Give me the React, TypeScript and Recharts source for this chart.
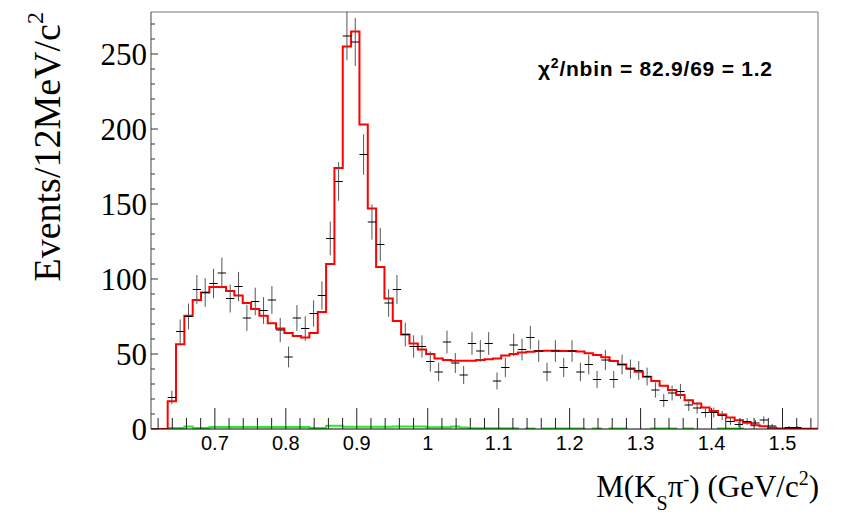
import React from 'react';
import { ComposedChart, Line, Scatter, ErrorBar, XAxis, YAxis, ReferenceLine } from 'recharts';

// histogram binning: 80 bins between 0.61 and 1.55 GeV/c2
const X_MIN = 0.61;
const X_MAX = 1.55;
const BIN_WIDTH = 0.01175;

// data counts per bin (null = empty bin, not drawn)
const dataCounts: (number | null)[] = [
  null, null, 21, 65, 75, 93, 91, 97, 104, 87,
  95, 74, 85, 79, 86, 66, 48, 74, 67, 77,
  89, 127, 165, 262, 258, 183, 138, 123, 84, 93,
  63, 55, 55, 45, 38, 58, 44, 36, 57, 52,
  57, 32, 41, 56, 53, 61, 52, 38, 52, 41,
  52, 38, 43, 33, 46, 33, 43, 40, 39, 35,
  26, 19, 24, 25, 16, 14, 11, 11, 9, 5,
  3, 5, 4, 6, 2, null, 1, 1, null, null,
];

// total fit (red histogram)
const fitValues: number[] = [
  0, 0, 18.5, 56.5, 75.5, 86, 91, 94.6, 94.6, 92,
  89, 84, 80, 75.5, 70.5, 67, 64, 62, 61, 64,
  78, 110, 174, 255, 265, 203, 147, 108, 87, 72,
  63, 57, 53, 50, 47, 46, 45.5, 45.5, 45.5, 46,
  46.5, 47, 49, 50, 51, 51.5, 52, 52.2, 52.2, 52,
  52, 51.6, 50.5, 49.4, 47.8, 45.3, 43, 40.4, 38.2, 34.8,
  32, 28.8, 26, 22.6, 19.2, 17, 14.3, 12, 9.6, 7.6,
  5.8, 4.2, 2.5, 1.8, 0.9, 0.3, 0.2, 0.2, 0, 0,
];

// background component (green), negative parts fall below the axis
const bkgValues: (number | null)[] = [
  null, null, 0.7, 0.7, 1.6, 0.7, 0.7, 1.3, 1.3, 1.3,
  1.3, 1.3, 1.3, 1.3, 1.3, 1.3, 1.3, 1.3, 1.3, 0.7,
  0.7, 2.2, 2.2, 1.5, 1.5, 1.5, 1.5, 1.5, 1.5, 1.7,
  1.7, 1.7, 1.7, 1.2, 1.2, 1.2, 1.7, 1.0, 0.5, 0.5,
  0.5, 0.5, 0.5, 0.5, -1, 0.3, -1, 0.3, 0.3, 0.3,
  0.3, 0.3, -1, 0.3, -1, 0.3, 0.3, -1, -1, -1,
  0.3, 0.3, 0.3, -1, 0.3, -1, -1, -1, 0.3, 0.3,
  0.3, -1, -1, -1, -1, -1, 0.3, 0.3, 0.3, 0.3,
];

const xMajorTicks = [0.7, 0.8, 0.9, 1, 1.1, 1.2, 1.3, 1.4, 1.5];
const xMinorTicks = [
  0.62, 0.64, 0.66, 0.68, 0.72, 0.74, 0.76, 0.78, 0.82, 0.84, 0.86, 0.88,
  0.92, 0.94, 0.96, 0.98, 1.02, 1.04, 1.06, 1.08, 1.12, 1.14, 1.16, 1.18,
  1.22, 1.24, 1.26, 1.28, 1.32, 1.34, 1.36, 1.38, 1.42, 1.44, 1.46, 1.48,
  1.52, 1.54,
];
const yMajorTicks = [0, 50, 100, 150, 200, 250];
const yMinorTicks = [10, 20, 30, 40, 60, 70, 80, 90, 110, 120, 130, 140, 160, 170, 180, 190, 210, 220, 230, 240, 260, 270];

const SERIF = "'Liberation Serif', 'Times New Roman', serif";
const SANS = "'Liberation Sans', Arial, Helvetica, sans-serif";

// step lines: one point per low edge, plus the closing edge
const toSteps = (vals: (number | null)[]) => [
  ...vals.map((v, i) => ({ x: X_MIN + i * BIN_WIDTH, y: v })),
  { x: X_MAX, y: vals[vals.length - 1] },
];
const fitData = toSteps(fitValues);
const bkgData = toSteps(bkgValues);

// points at bin centres, poisson errors
const points = dataCounts
  .map((n, i) => (n === null ? null : { x: X_MIN + (i + 0.5) * BIN_WIDTH, y: n, ex: BIN_WIDTH / 2, ey: Math.sqrt(n) }))
  .filter((p) => p !== null);

const xTicks = [...xMinorTicks, ...xMajorTicks].sort((a, b) => a - b);
const yTicks = [...yMinorTicks, ...yMajorTicks].sort((a, b) => a - b);

function XTick({ x, y, payload }: any) {
  const v = payload.value as number;
  const major = xMajorTicks.includes(v);
  return (
    <g>
      <line x1={x} y1={y} x2={x} y2={y - (major ? 21 : 11)} stroke="#222" strokeWidth={1} />
      {major && (
        <text x={x} y={y + 21} textAnchor="middle" fontFamily={SANS} fontSize={20} fill="#000">
          {String(v)}
        </text>
      )}
    </g>
  );
}

function YTick({ x, y, payload }: any) {
  const v = payload.value as number;
  const major = yMajorTicks.includes(v);
  return (
    <g>
      <line x1={x} y1={y} x2={x + (major ? 7 : 4)} y2={y} stroke="#333" strokeWidth={1} />
      {major && (
        <text x={x - 4} y={y + 11} textAnchor="end" fontFamily={SERIF} fontSize={31} fill="#000">
          {v}
        </text>
      )}
    </g>
  );
}

export default function App() {
  return (
    <div style={{ position: 'absolute', left: 0, top: 0, width: 856, height: 513, background: '#fff' }}>
      <ComposedChart width={856} height={513} margin={{ top: 12, right: 38, bottom: 44, left: 91 }}>
        <XAxis
          type="number"
          dataKey="x"
          domain={[X_MIN, X_MAX]}
          ticks={xTicks}
          interval={0}
          allowDataOverflow
          height={40}
          tickLine={false}
          tickSize={0}
          tickMargin={0}
          axisLine={{ stroke: '#000' }}
          tick={(p: any) => <XTick {...p} />}
        />
        <YAxis
          type="number"
          domain={[0, 278]}
          ticks={yTicks}
          interval={0}
          allowDataOverflow
          width={60}
          tickLine={false}
          tickSize={0}
          tickMargin={0}
          axisLine={{ stroke: '#444' }}
          tick={(p: any) => <YTick {...p} />}
        />
        <ReferenceLine y={278} stroke="#777" />
        <ReferenceLine x={X_MAX} stroke="#777" />
        <Line
          data={bkgData}
          dataKey="y"
          type="stepAfter"
          stroke="#22ee22"
          strokeWidth={2}
          dot={false}
          activeDot={false}
          isAnimationActive={false}
        />
        <Line
          data={fitData}
          dataKey="y"
          type="stepAfter"
          stroke="#ff0000"
          strokeWidth={2}
          dot={false}
          activeDot={false}
          isAnimationActive={false}
        />
        <Scatter data={points} dataKey="y" shape={() => <g />} isAnimationActive={false}>
          <ErrorBar dataKey="ey" direction="y" width={0} stroke="#555" strokeWidth={1} isAnimationActive={false} />
          <ErrorBar dataKey="ex" direction="x" width={0} stroke="#000" strokeWidth={1} isAnimationActive={false} />
        </Scatter>
      </ComposedChart>
      <svg width={856} height={513} style={{ position: 'absolute', left: 0, top: 0, pointerEvents: 'none' }}>
        <text transform="translate(60,12) rotate(-90)" textAnchor="end" fontFamily={SERIF} fontSize={38} fill="#000">
          Events/12MeV/c<tspan dy={-17} fontSize={24}>2</tspan>
        </text>
        <text x={819} y={497} textAnchor="end" fontFamily={SERIF} fontSize={31} fill="#000">
          M(K<tspan dy={13} fontSize={20}>S</tspan>
          <tspan dy={-13}>π</tspan>
          <tspan dy={-12} fontSize={18}>-</tspan>
          <tspan dy={12}>) (GeV/c</tspan>
          <tspan dy={-12} fontSize={20}>2</tspan>
          <tspan dy={12}>)</tspan>
        </text>
        <text x={538} y={76} fontFamily={SANS} fontWeight="bold" fontSize={21} fill="#000" textLength={234} lengthAdjust="spacing">
          χ<tspan dy={-8} fontSize={14}>2</tspan>
          <tspan dy={8}>/nbin = 82.9/69 = 1.2</tspan>
        </text>
      </svg>
    </div>
  );
}
